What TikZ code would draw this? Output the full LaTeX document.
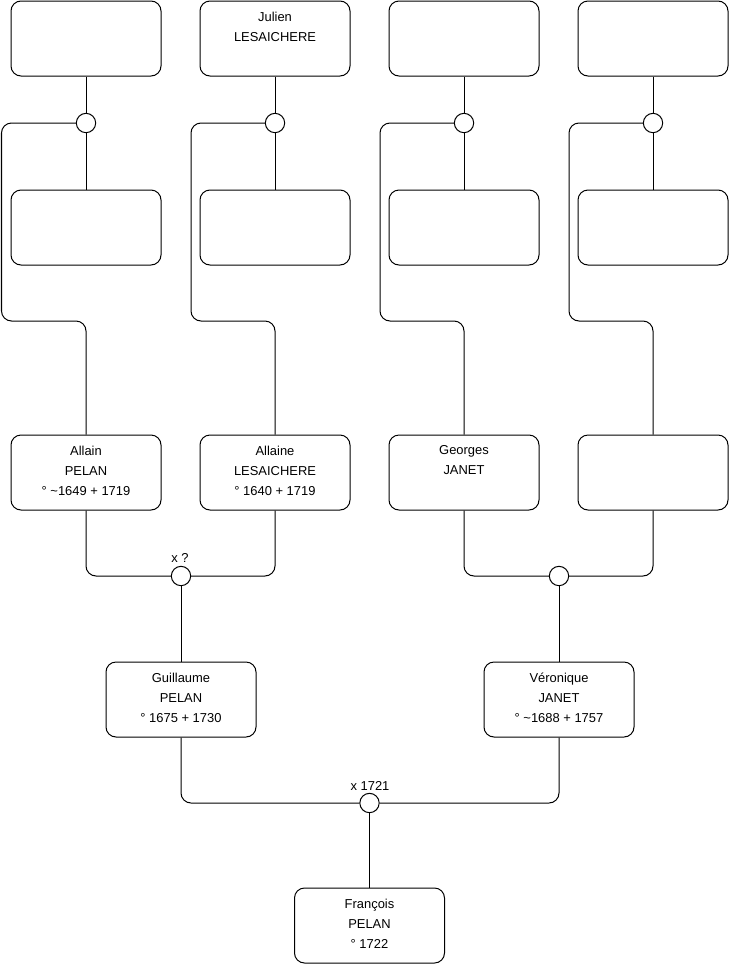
\documentclass[tikz,border=0pt]{standalone}
\usepackage{fontspec}
\setmainfont{Liberation Sans}
\begin{document}
\begin{tikzpicture}[x=0.75pt,y=-0.75pt,
 person/.style={draw, rounded corners=7.5pt, minimum width=112.5pt, minimum height=56.25pt, inner sep=0pt, line width=0.75pt},
 union/.style={draw, circle, minimum size=14.5pt, inner sep=0pt, line width=0.75pt, fill=white},
 info/.style={anchor=north, inner sep=0pt, align=center, font=\fontsize{9.7}{15}\selectfont},
 link/.style={line width=0.75pt, rounded corners=7.5pt},
 note/.style={inner sep=0pt, font=\fontsize{9.7}{11}\selectfont}]
\useasboundingbox (0,0) rectangle (740,975);
% top row
\node[person] (t1) at (86,38.5) {};
\node[person] (t2) at (275,38.5) {};
\node[person] (t3) at (464,38.5) {};
\node[person] (t4) at (653,38.5) {};
% second row
\node[person] (m1) at (86,227.5) {};
\node[person] (m2) at (275,227.5) {};
\node[person] (m3) at (464,227.5) {};
\node[person] (m4) at (653,227.5) {};
% third row
\node[person] (g1) at (86,472.5) {};
\node[person] (g2) at (275,472.5) {};
\node[person] (g3) at (464,472.5) {};
\node[person] (g4) at (653,472.5) {};
% fourth row
\node[person] (p1) at (181,699.5) {};
\node[person] (p2) at (559,699.5) {};
% bottom
\node[person] (f) at (369.5,925.5) {};
% texts
\node[info] (tx2) at (275,11.5) {Julien\\LESAICHERE};
\node[info] (tg1) at (86,445.5) {Allain\\PELAN\\° \textasciitilde1649 + 1719};
\node[info] (tg2) at (275,445.5) {Allaine\\LESAICHERE\\° 1640 + 1719};
\node[info] (tg3) at (464,445.5) {Georges\\JANET};
\node[info] (tp1) at (181,672.5) {Guillaume\\PELAN\\° 1675 + 1730};
\node[info] (tp2) at (559,672.5) {Véronique\\JANET\\° \textasciitilde1688 + 1757};
\node[info] (tf) at (369.5,898.5) {François\\PELAN\\° 1722};
% unions
\node[union] (c1) at (86,123) {};
\node[union] (c2) at (275,123) {};
\node[union] (c3) at (464,123) {};
\node[union] (c4) at (653,123) {};
\node[union] (u1) at (181,576) {};
\node[union] (u2) at (559,576) {};
\node[union] (u3) at (369.5,803) {};
\node[note] (l1) at (180,557.5) {x ?};
\node[note] (l3) at (370,785.5) {x 1721};
% links top blocks
\foreach \i/\lx in {1/1.5,2/191,3/380,4/569}{
  \draw[link] (t\i.south) -- (c\i.north);
  \draw[link] (c\i.south) -- (m\i.north);
  \draw[link] (c\i.west) -- (\lx,123) -- (\lx,321) -| (g\i.north);
}
% parents unions
\draw[link] (g1.south) |- (u1.west);
\draw[link] (g2.south) |- (u1.east);
\draw[link] (u1.south) -- (p1.north);
\draw[link] (g3.south) |- (u2.west);
\draw[link] (g4.south) |- (u2.east);
\draw[link] (u2.south) -- (p2.north);
\draw[link] (p1.south) |- (u3.west);
\draw[link] (p2.south) |- (u3.east);
\draw[link] (u3.south) -- (f.north);
\end{tikzpicture}
\end{document}
